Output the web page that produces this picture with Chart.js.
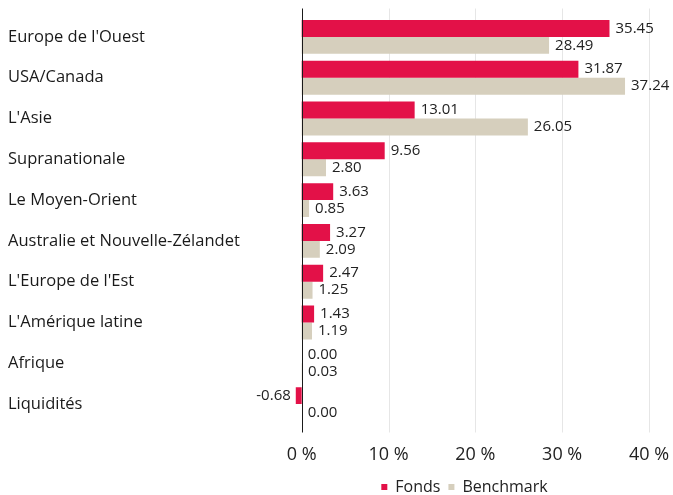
<!DOCTYPE html>
<html>
<head>
<meta charset="utf-8">
<script src="https://cdn.jsdelivr.net/npm/chart.js@4/dist/chart.umd.min.js"></script>
<style>
  html, body { margin: 0; padding: 0; background: #fff; }
  #wrap { width: 673px; height: 495px; }
</style>
</head>
<body>
<div id="wrap"><canvas id="regionChart"></canvas></div>
<script>
const categories = [
    "Europe de l'Ouest",
    'USA/Canada',
    "L'Asie",
    'Supranationale',
    'Le Moyen-Orient',
    'Australie et Nouvelle-Zélandet',
    "L'Europe de l'Est",
    "L'Amérique latine",
    'Afrique',
    'Liquidités'
];
const fondsValues = [35.45, 31.87, 13.01, 9.56, 3.63, 3.27, 2.47, 1.43, 0.00, -0.68];
const benchmarkValues = [28.49, 37.24, 26.05, 2.80, 0.85, 2.09, 1.25, 1.19, 0.03, 0.00];
const xTicks = [0, 10, 20, 30, 40];

const fontFamily = "'Open Sans', sans-serif";

// vertical grid lines, a bit longer than the chart area like the original
const gridLines = {
    id: 'gridLines',
    beforeDatasetsDraw(chart) {
        const { ctx, chartArea, scales } = chart;
        ctx.save();
        ctx.lineWidth = 1;
        ctx.strokeStyle = '#e6e6e6';
        xTicks.forEach(v => {
            if (v === 0) return;
            const px = Math.round(scales.x.getPixelForValue(v)) + 0.5;
            ctx.beginPath();
            ctx.moveTo(px, chartArea.top - 8);
            ctx.lineTo(px, chartArea.bottom + 8);
            ctx.stroke();
        });
        ctx.restore();
    },
    afterDatasetsDraw(chart) {
        const { ctx, chartArea, scales } = chart;
        const px = Math.round(scales.x.getPixelForValue(0)) + 0.5;
        ctx.save();
        ctx.strokeStyle = '#1a1a1a';
        ctx.lineWidth = 1;
        ctx.beginPath();
        ctx.moveTo(px, chartArea.top - 8);
        ctx.lineTo(px, chartArea.bottom + 8);
        ctx.stroke();
        ctx.restore();
    }
};

// value labels at the end of every bar
const valueLabels = {
    id: 'valueLabels',
    afterDatasetsDraw(chart) {
        const ctx = chart.ctx;
        ctx.save();
        ctx.font = '15px ' + fontFamily;
        ctx.fillStyle = '#222';
        ctx.textBaseline = 'middle';
        chart.data.datasets.forEach((ds, i) => {
            chart.getDatasetMeta(i).data.forEach((bar, j) => {
                const v = ds.data[j];
                if (v < 0) {
                    ctx.textAlign = 'right';
                    ctx.fillText(v.toFixed(2), bar.x - 5, bar.y);
                } else {
                    ctx.textAlign = 'left';
                    ctx.fillText(v.toFixed(2), bar.x + 6, bar.y);
                }
            });
        });
        ctx.restore();
    }
};

// legend sits centred under the plot rather than the whole canvas
const legendShift = {
    id: 'legendShift',
    afterLayout(chart) {
        const lg = chart.legend;
        lg.left = chart.chartArea.left - 13;
        lg.right = chart.chartArea.right;
    }
};

new Chart(document.getElementById('regionChart'), {
    type: 'bar',
    data: {
        labels: categories,
        datasets: [
            {
                label: 'Fonds',
                data: fondsValues,
                backgroundColor: '#e31148',
                borderWidth: 0,
                categoryPercentage: 0.83,
                barPercentage: 1.0
            },
            {
                label: 'Benchmark',
                data: benchmarkValues,
                backgroundColor: '#d6cfbd',
                borderWidth: 0,
                categoryPercentage: 0.83,
                barPercentage: 1.0
            }
        ]
    },
    options: {
        indexAxis: 'y',
        responsive: true,
        maintainAspectRatio: false,
        animation: false,
        layout: {
            padding: { top: 16.5, left: 8, right: 24, bottom: -10 }
        },
        plugins: {
            tooltip: { enabled: false },
            legend: {
                position: 'bottom',
                labels: {
                    boxWidth: 6,
                    boxHeight: 6,
                    padding: 8,
                    color: '#222',
                    font: { family: fontFamily, size: 16, lineHeight: 1 }
                }
            }
        },
        scales: {
            x: {
                min: -1,
                max: 40,
                grid: { display: false, drawTicks: false, tickLength: 0 },
                border: { display: false },
                afterBuildTicks: scale => {
                    scale.ticks = xTicks.map(v => ({ value: v }));
                },
                afterFit: scale => {
                    scale.height = 46.5;
                    scale.paddingLeft = 0;
                    scale.paddingRight = 0;
                },
                ticks: {
                    padding: 20,
                    color: '#222',
                    font: { family: fontFamily, size: 18 },
                    callback: value => value + ' %'
                }
            },
            y: {
                grid: { display: false, drawTicks: false },
                border: { display: false },
                afterFit: scale => { scale.width = 285; },
                ticks: {
                    crossAlign: 'far',
                    color: '#1a1a1a',
                    font: { family: fontFamily, size: 16.5 }
                }
            }
        }
    },
    plugins: [gridLines, valueLabels, legendShift]
});
</script>
</body>
</html>
